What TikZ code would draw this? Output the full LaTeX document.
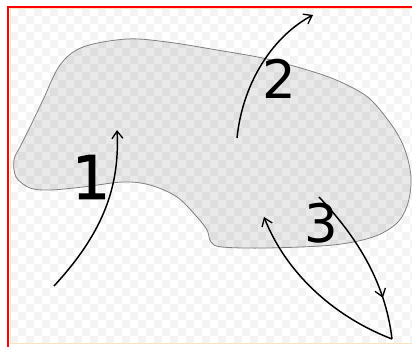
\documentclass[tikz,border=0pt]{standalone}
\usepackage{fontspec}
\setmainfont{DejaVu Sans}
\usetikzlibrary{arrows.meta,decorations.markings}
\definecolor{checker}{HTML}{F4F4F4}
\definecolor{edgebeige}{HTML}{F7E3BE}
\definecolor{blobline}{HTML}{808080}
\tikzset{
  flow/.style={line width=1.45pt, draw=black},
  barb/.style={-{Straight Barb[length=7.5pt,width=11pt,line width=1.3pt]}},
  digit/.style={inner sep=0pt, anchor=center, font=\fontsize{53}{53}\selectfont},
  blob/.style={draw=blobline, line width=0.8pt, fill=black, fill opacity=0.085}
}
\begin{document}
\begin{tikzpicture}[x=1pt,y=-1pt]
\useasboundingbox (0,0) rectangle (412,347);
\fill[white] (0,0) rectangle (412,347);
% checkered background
\begin{scope}
\clip (10,8) rectangle (412,343);
\foreach \i in {0,...,51}{
  \foreach \j in {0,...,42}{
    \pgfmathparse{int(mod(\i+\j,2))}
    \ifnum\pgfmathresult=1
      \fill[checker] ({10+8*\i},{8+8*\j}) rectangle ++(8,8);
    \fi
  }
}
\end{scope}
\draw[edgebeige, line width=0.8pt] (10.5,8) -- (10.5,343) -- (412,343);
\draw[edgebeige, line width=0.8pt] (10.5,8.8) -- (412,8.8);
% frame
\draw[red, line width=2pt] (8,347) -- (8,7) -- (412,7);
% blob
\draw[blob] plot[smooth cycle, tension=0.55] coordinates {
  (127,39) (167,42) (217,50) (267,59) (317,73) (345,84) (370,99) (393,127) (405,150) (411,177)
  (408,203) (397,223) (373,237) (333,245) (267,248) (222,247) (211,242) (207,230)
  (197,217) (177,197) (150,185) (123,182) (83,187) (50,190) (30,188) (16,177)
  (14,160) (20,147) (30,127) (43,100) (60,65) (83,47)};
% labels
\node[digit, font=\fontsize{60}{60}\selectfont\addfontfeatures{FakeBold=1.6}] (one) at (91,177) {1};
\node[digit] (two) at (279.5,78.5) {2};
\node[digit] (three) at (321.5,223) {3};
% arrows
\coordinate (a1s) at (54,286);
\coordinate (a1e) at (117,130);
\coordinate (a2s) at (237,138);
\coordinate (a2e) at (313,15);
\coordinate (a3s) at (319,197);
\coordinate (apex) at (392,339);
\coordinate (a3e) at (264,217);
\draw[flow, barb] (a1s) .. controls (102,234) and (120,188) .. (a1e);
\draw[flow, barb] (a2s) .. controls (243,80) and (275,35) .. (a2e);
\draw[flow, decoration={markings, mark=at position 0.74 with {\arrow{Straight Barb[length=7.5pt,width=11pt,line width=1.3pt]}}}, postaction={decorate}]
  (a3s) .. controls (355,235) and (385,280) .. (apex);
\draw[flow, barb] (apex) .. controls (330,315) and (285,270) .. (a3e);
\end{tikzpicture}
\end{document}
